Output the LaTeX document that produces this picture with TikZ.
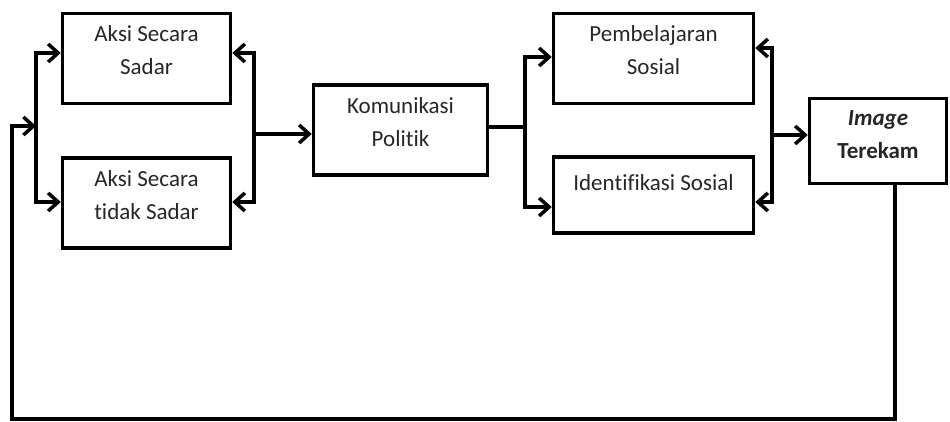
\documentclass[tikz,border=0pt]{standalone}
\usepackage{fontspec}
\setmainfont{Carlito}[Ligatures=CommonOff]
\usepackage{tikz}
\usetikzlibrary{arrows.meta,positioning,calc}
\definecolor{boxtext}{HTML}{262626}

\begin{document}
\begin{tikzpicture}[x=1pt, y=-1pt,
  box/.style={draw, line width=3.5pt, minimum width=168pt, minimum height=90pt, align=center, text depth=16pt, font=\fontsize{23}{33}\selectfont, text=boxtext},
  wire/.style={line width=3.5pt, line cap=rect},
  arr/.style={wire, -{Straight Barb[length=10pt, width=18pt]}}
]
  \useasboundingbox (0,0) rectangle (950,422);

  \node[box] (sadar) at (146.5,58.5) {Aksi Secara\\Sadar};
  \node[box, below=51pt of sadar] (tidak) {Aksi Secara\\tidak Sadar};
  \node[box, minimum width=174pt] (kom) at (400.5,130) {Komunikasi\\Politik};
  \node[box, minimum width=200pt] (belajar) at (653.5,58.5) {Pembelajaran\\Sosial};
  \node[box, minimum width=200pt, minimum height=76pt, text depth=24pt, below=50pt of belajar] (ident) {Identifikasi Sosial};
  \node[box, minimum width=137pt, minimum height=85pt, text depth=12pt, font=\fontsize{23}{33}\selectfont\bfseries] (image) at (878,141) {\textit{Image}\\Terekam};

  % percabangan kiri
  \coordinate (lb1) at (36,53);
  \coordinate (lb2) at (36,202);
  \coordinate (lb0) at (36,126);
  \draw[wire] (lb1) -- (lb2);
  \draw[arr] (lb1) -- (sadar.west |- lb1);
  \draw[arr] (lb2) -- (tidak.west |- lb2);

  \coordinate (rb1) at (254,53);
  \coordinate (rb2) at (254,202);
  \coordinate (rb0) at (254,134);
  \draw[wire] (rb1) -- (rb2);
  \draw[arr] (rb1) -- (sadar.east |- rb1);
  \draw[arr] (rb2) -- (tidak.east |- rb2);
  \draw[arr] (rb0) -- (kom.west |- rb0);

  % percabangan kanan
  \coordinate (cb1) at (525,57);
  \coordinate (cb2) at (525,207);
  \coordinate (cb0) at (525,127);
  \draw[wire] (kom.east |- cb0) -- (cb0);
  \draw[wire] (cb1) -- (cb2);
  \draw[arr] (cb1) -- (belajar.west |- cb1);
  \draw[arr] (cb2) -- (ident.west |- cb2);

  \coordinate (db1) at (772,48);
  \coordinate (db2) at (772,202);
  \coordinate (db0) at (772,135);
  \draw[wire] (db1) -- (db2);
  \draw[arr] (db1) -- (belajar.east |- db1);
  \draw[arr] (db2) -- (ident.east |- db2);
  \draw[arr] (db0) -- (image.west |- db0);

  % umpan balik
  \coordinate (fbr) at (895,419);
  \coordinate (fbl) at (12,419);
  \draw[arr, line cap=butt] (image.south -| fbr) -- (fbr) -- (fbl) -- (fbl |- lb0) -- (lb0);
\end{tikzpicture}
\end{document}
